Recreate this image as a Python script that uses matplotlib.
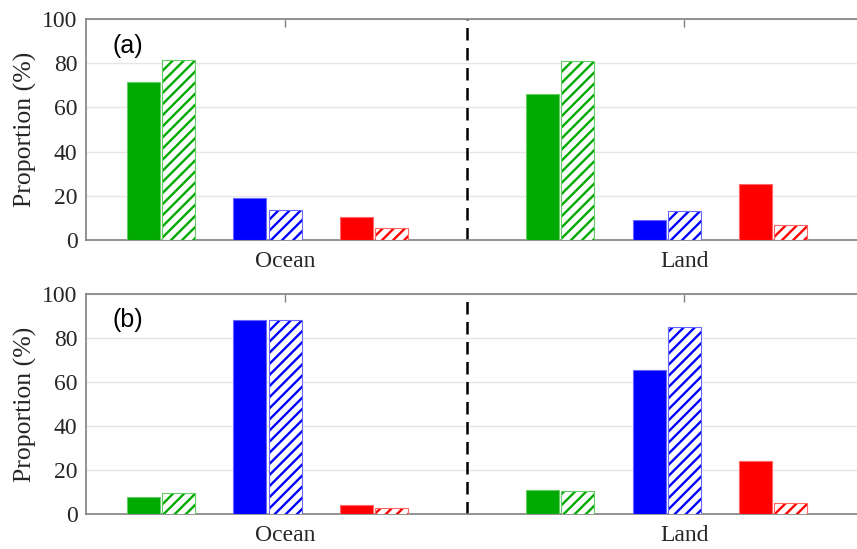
import numpy as np
import matplotlib
matplotlib.use('Agg')
from matplotlib import pyplot as plt

# data (percent)
regions = ['Ocean', 'Land']
classes = ['green', 'blue', 'red']
colors = ['#00aa00', '#0000ff', '#ff0000']
edge_colors = ['#66cc66', '#6666ff', '#ff6666']

# panel (a)
a_solid = [[71.5, 19.1, 10.4], [66.2, 9.2, 25.5]]
a_hatch = [[81.4, 13.7, 5.4], [81.0, 13.0, 6.6]]
# panel (b)
b_solid = [[7.7, 88.2, 4.2], [11.0, 65.3, 24.0]]
b_hatch = [[9.4, 88.2, 2.6], [10.3, 85.1, 5.0]]

plt.rcParams['hatch.linewidth'] = 1.7
serif = ['Liberation Serif', 'DejaVu Serif']

group_x = [np.array([0.0, 1.0, 2.0]), np.array([3.75, 4.75, 5.75])]
width = 0.31
off = 0.165


def draw_panel(ax, solid, hatch, tag):
    for r in range(len(regions)):
        xs = group_x[r]
        for k in range(len(classes)):
            ax.bar(xs[k] - off, solid[r][k], width, color=colors[k],
                   edgecolor=edge_colors[k], linewidth=0.8, zorder=3)
            # hatched bar: hatch in full colour, lighter outline
            ax.bar(xs[k] + off, hatch[r][k], width, color='white',
                   edgecolor=colors[k], hatch='///', linewidth=0, zorder=3)
            ax.bar(xs[k] + off, hatch[r][k], width, fill=False,
                   edgecolor=edge_colors[k], linewidth=0.8, zorder=4)
    ax.axvline(2.875, color='black', linestyle=(0, (5, 3)), linewidth=1.8, zorder=2)
    ax.set_xlim(-0.704, 6.535)
    ax.set_ylim(0, 100)
    ax.set_yticks([0, 20, 40, 60, 80, 100])
    ax.set_xticks([group_x[0][1] + off, group_x[1][1] + off])
    ax.set_xticklabels(regions, fontfamily=serif, fontsize=17, color='#262626')
    for lbl in ax.get_yticklabels():
        lbl.set_fontfamily(serif)
        lbl.set_fontsize(17)
        lbl.set_color('#262626')
    ax.tick_params(axis='y', length=0, pad=6)
    ax.tick_params(axis='x', direction='in', length=6, top=True, color='#808080',
                   width=1, pad=8)
    ax.grid(axis='y', color='#e6e6e6', linewidth=1, zorder=0)
    ax.set_axisbelow(True)
    for s in ['left', 'bottom', 'top']:
        ax.spines[s].set_color('#808080')
        ax.spines[s].set_linewidth(1.2)
    ax.spines['right'].set_visible(False)
    ax.set_ylabel('Proportion (%)', fontfamily=serif, fontsize=18.5, color='#262626',
                  labelpad=4)
    ax.text(0.035, 0.88, tag, transform=ax.transAxes, fontsize=18,
            fontfamily='Liberation Sans', va='center', ha='left')


fig = plt.figure(figsize=(8.57, 5.49), dpi=100)
ax1 = fig.add_axes([0.1003, 0.5628, 0.8997, 0.4026])
ax2 = fig.add_axes([0.1003, 0.0638, 0.8997, 0.4007])
draw_panel(ax1, a_solid, a_hatch, '(a)')
draw_panel(ax2, b_solid, b_hatch, '(b)')

fig.savefig('out.png', dpi=100)
